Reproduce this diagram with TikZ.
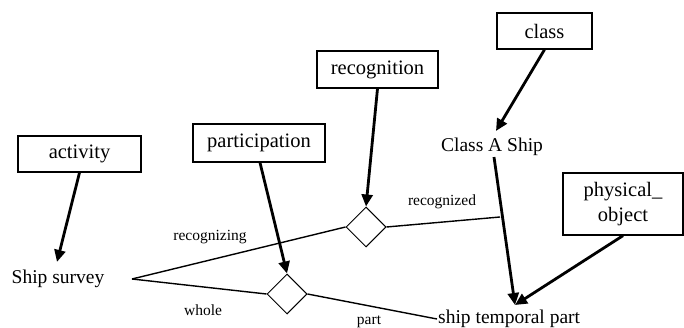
\documentclass[tikz,border=0pt]{standalone}
\usepackage{fontspec}
\setmainfont{Liberation Serif}
\usetikzlibrary{shapes.geometric,arrows.meta}
\begin{document}
\begin{tikzpicture}[x=1pt,y=-1pt,
  box/.style={draw,line width=1.3pt,rectangle,inner sep=0pt,font=\fontsize{20.5}{25}\selectfont,align=center},
  txt/.style={inner sep=1pt,font=\fontsize{19.5}{23}\selectfont},
  lbl/.style={inner sep=0pt,font=\fontsize{15.5}{18}\selectfont},
  rel/.style={draw,diamond,line width=1pt,minimum width=40pt,minimum height=40pt,inner sep=0pt,aspect=1},
  thin/.style={line width=1.4pt},
  thick arrow/.style={line width=2.8pt,-{Triangle[length=12pt,width=11pt]}}
]
\useasboundingbox (0,0) rectangle (684,328);
\fill[white] (0,0) rectangle (684,328);
% boxes
\node[box,minimum width=123pt,minimum height=36pt] (act) at (79.5,154) {activity};
\node[box,minimum width=132pt,minimum height=38pt] (par) at (259,143) {participation};
\node[box,minimum width=121pt,minimum height=37pt] (rec) at (377.5,69.5) {recognition};
\node[box,minimum width=95pt,minimum height=36pt] (cls) at (544.5,31) {class};
\node[box,minimum width=120pt,minimum height=62pt] (po) at (623,204) {physical\_\\object};
% text nodes
\node[txt] (ss) at (58,279) {Ship survey};
\node[txt] (cas) at (492,147) {Class A Ship};
\node[txt,anchor=west] (stp) at (437,319) {ship temporal part};
% diamonds
\node[rel] (d1) at (366,227) {};
\node[rel] (d2) at (287,294) {};
% coordinates
\coordinate (ssr) at (132,279);
\coordinate (rj) at (500,217);
\coordinate (sq) at (515,305);
% thin lines
\draw[thin] (ssr) -- (d1.west);
\draw[thin] (ssr) -- (d2.west);
\draw[thin] (d2.east) -- (stp.west);
\draw[thin] (d1.east) -- (rj);
% arrows
\draw[thick arrow] (act.south) -- ([xshift=-1pt,yshift=7pt]ss.north);
\draw[thick arrow] ([xshift=1pt]par.south) -- (d2.north);
\draw[thick arrow] (rec.south) -- (d1.north);
\draw[thick arrow] (cls.south) -- ([xshift=4pt,yshift=6pt]cas.north);
\draw[thick arrow] ([xshift=2pt]cas.south) -- (sq);
\draw[thick arrow] (po.south) -- (sq);
% labels
\node[lbl] (l1) at (210,237) {recognizing};
\node[lbl] (l2) at (203,310) {whole};
\node[lbl] (l3) at (369,322) {part};
\node[lbl] (l4) at (442,202) {recognized};
\end{tikzpicture}
\end{document}
